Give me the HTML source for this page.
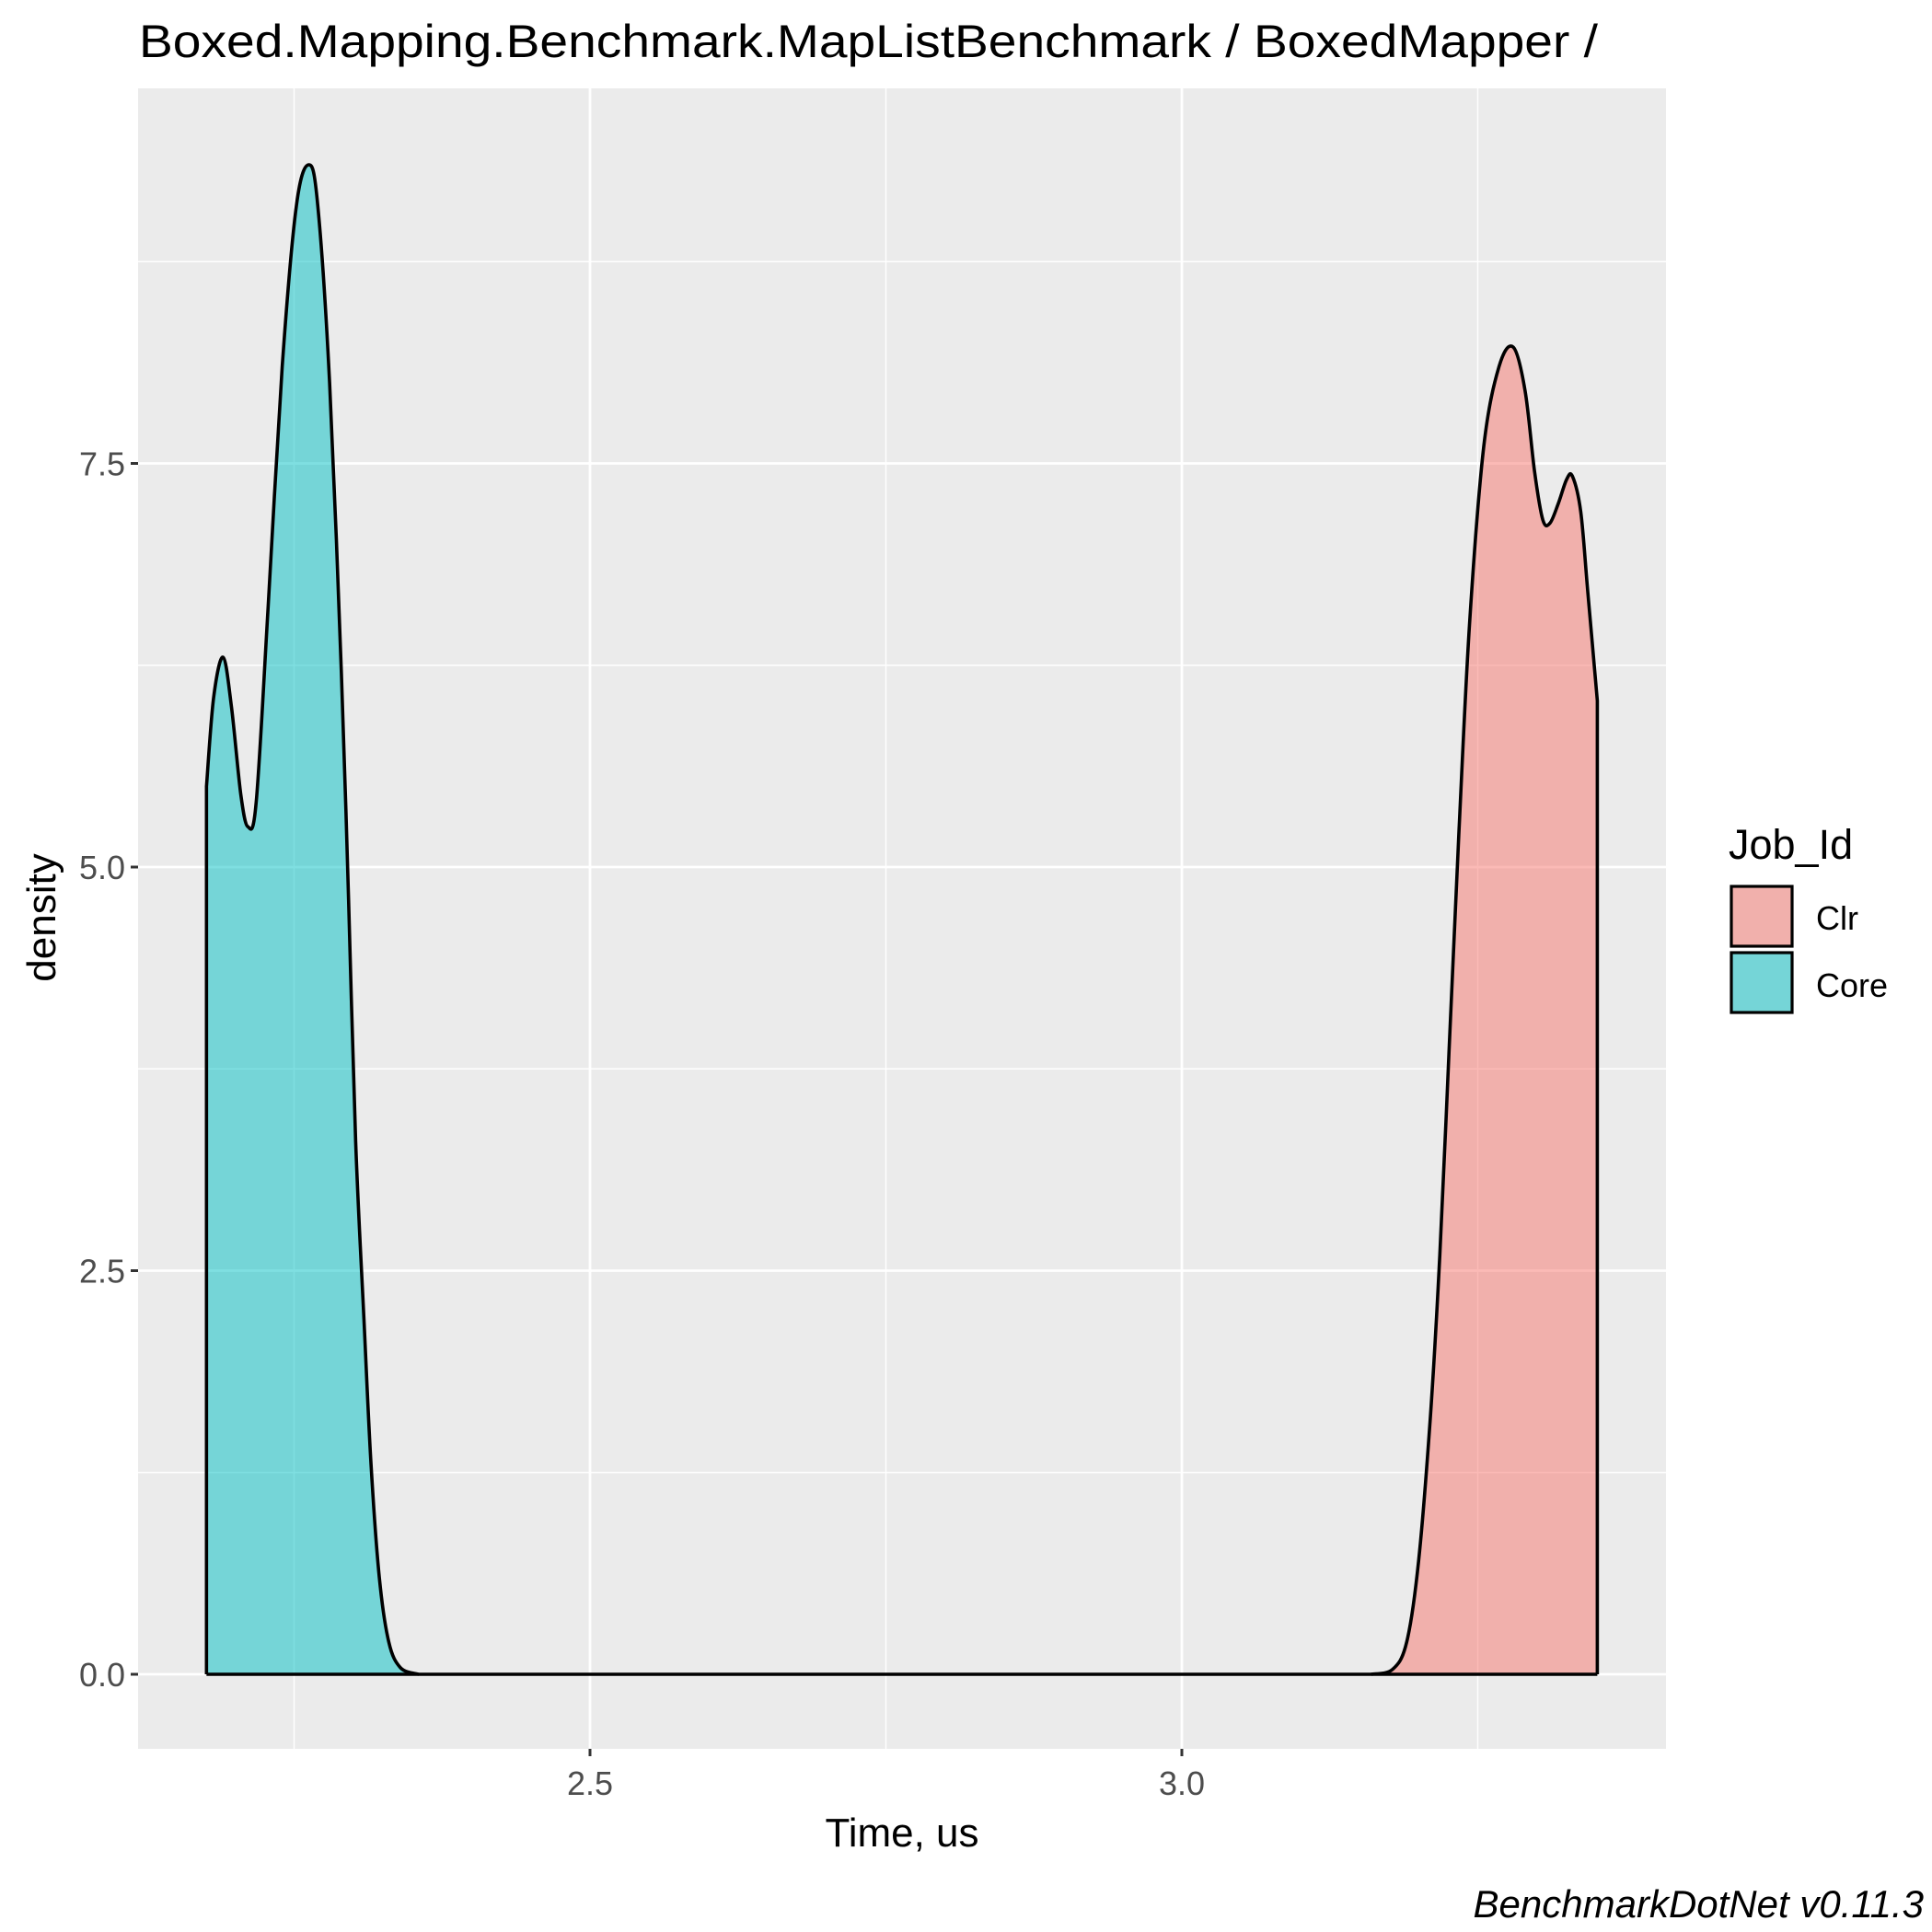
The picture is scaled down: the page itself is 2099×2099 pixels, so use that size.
<!DOCTYPE html>
<html><head><meta charset="utf-8"><style>
html,body{margin:0;padding:0;background:#fff;}
svg{display:block;}
text{font-family:"Liberation Sans",sans-serif;}
</style></head><body>
<svg id="chart" width="2099" height="2099" viewBox="0 0 2099 2099" xmlns="http://www.w3.org/2000/svg">
<rect x="0" y="0" width="2099" height="2099" fill="#fff"/>
<text x="151" y="62" font-size="50" fill="#000" textLength="1585" lengthAdjust="spacingAndGlyphs">Boxed.Mapping.Benchmark.MapListBenchmark / BoxedMapper /</text>
<rect x="150" y="96" width="1660" height="1804" fill="#EBEBEB"/>
<g id="grid"></g>
<g id="series"></g>
<g id="axes"></g>
<text x="980" y="2006" font-size="44" text-anchor="middle" fill="#000">Time, us</text>
<text transform="translate(60,997) rotate(-90)" font-size="44" text-anchor="middle" fill="#000">density</text>
<text x="1878" y="933" font-size="45" fill="#000">Job_Id</text>
<g>
<rect x="1881" y="963" width="66" height="65" fill="#EBEBEB"/>
<rect x="1881" y="963" width="66" height="65" fill="#F8766D" fill-opacity="0.5" stroke="#000" stroke-width="3.2"/>
<text x="1973" y="1010" font-size="36" fill="#000">Clr</text>
</g>
<g>
<rect x="1881" y="1035" width="66" height="65" fill="#EBEBEB"/>
<rect x="1881" y="1035" width="66" height="65" fill="#00BFC4" fill-opacity="0.5" stroke="#000" stroke-width="3.2"/>
<text x="1973" y="1083" font-size="36" fill="#000">Core</text>
</g>
<text x="2090" y="2083" font-size="42" font-style="italic" text-anchor="end" fill="#000">BenchmarkDotNet v0.11.3</text>
</svg>
<script>
const coreX = [2.176,2.182,2.190,2.197,2.205,2.211,2.218,2.228,2.240,2.252,2.2625,2.270,2.280,2.290,2.296,2.302,2.309,2.315,2.322,2.330,2.340,2.355];
const coreY = [5.5,6.05,6.3,6.0,5.45,5.25,5.4,6.6,8.1,9.1,9.35,9.1,8.0,6.2,4.8,3.3,2.2,1.3,0.6,0.2,0.04,0.0];
const clrX = [3.160,3.178,3.190,3.200,3.210,3.218,3.226,3.234,3.243,3.255,3.268,3.280,3.290,3.298,3.305,3.311,3.318,3.325,3.330,3.337,3.343,3.351];
const clrY = [0,0.03,0.2,0.7,1.6,2.6,3.9,5.2,6.5,7.6,8.1,8.22,7.95,7.45,7.15,7.13,7.25,7.4,7.42,7.2,6.7,6.03];
const xTicks = [2.5,3.0];
const xTickLabels = ["2.5","3.0"];
const xMinor = [2.25,2.75,3.25];
const yTicks = [0,2.5,5,7.5];
const yTickLabels = ["0.0","2.5","5.0","7.5"];
const yMinor = [1.25,3.75,6.25,8.75];
const xMinAll = 2.176, xMaxAll = 3.351;

const NS="http://www.w3.org/2000/svg";
const L=150,R=1810,T=96,B=1900;
function sx(v){return 641+(v-2.5)*1286;}
function sy(v){return 1819-v*175.4;}
function mk(tag,attrs,parent){const e=document.createElementNS(NS,tag);for(const k in attrs)e.setAttribute(k,attrs[k]);parent.appendChild(e);return e;}
const grid=document.getElementById('grid'),axes=document.getElementById('axes'),series=document.getElementById('series');
yMinor.forEach(v=>{const e=mk('line',{x1:L,x2:R,y1:sy(v),y2:sy(v),stroke:'#fff','stroke-width':1.4},grid);

});
xMinor.forEach(v=>{const e=mk('line',{x1:sx(v),x2:sx(v),y1:T,y2:B,stroke:'#fff','stroke-width':1.4},grid);

});
yTicks.forEach((v,i)=>{const e=mk('line',{x1:L,x2:R,y1:sy(v),y2:sy(v),stroke:'#fff','stroke-width':2.8},grid);


const t=mk('line',{x1:L-8,x2:L,y1:sy(v),y2:sy(v),stroke:'#333','stroke-width':3},axes);


const tx=mk('text',{x:L-14,y:sy(v)+13,'font-size':36,'text-anchor':'end',fill:'#4D4D4D'},axes);tx.textContent=yTickLabels[i];

});
xTicks.forEach((v,i)=>{const e=mk('line',{x1:sx(v),x2:sx(v),y1:T,y2:B,stroke:'#fff','stroke-width':2.8},grid);


const t=mk('line',{x1:sx(v),x2:sx(v),y1:B,y2:B+8,stroke:'#333','stroke-width':3},axes);


const tx=mk('text',{x:sx(v),y:B+50,'font-size':36,'text-anchor':'middle',fill:'#4D4D4D'},axes);tx.textContent=xTickLabels[i];

});

function smooth(pts){let d='';for(let i=0;i<pts.length-1;i++){const p0=pts[Math.max(0,i-1)],p1=pts[i],p2=pts[i+1],p3=pts[Math.min(pts.length-1,i+2)];
const c1=[p1[0]+(p2[0]-p0[0])/6,p1[1]+(p2[1]-p0[1])/6],c2=[p2[0]-(p3[0]-p1[0])/6,p2[1]-(p3[1]-p1[1])/6];
d+=` C${c1[0].toFixed(1)},${c1[1].toFixed(1)} ${c2[0].toFixed(1)},${c2[1].toFixed(1)} ${p2[0].toFixed(1)},${p2[1].toFixed(1)}`;}return d;}
function area(xs,ys,color,name){
const pts=xs.map((x,i)=>[sx(x),sy(ys[i])]);
const first=pts[0],last=pts[pts.length-1];
let d=`M${sx(xMinAll)},${sy(0)} L${first[0]},${sy(0)} L${first[0]},${first[1]}`+smooth(pts)+` L${last[0]},${sy(0)} L${sx(xMaxAll)},${sy(0)}`;
const f=mk('path',{d:d+' Z',fill:color,'fill-opacity':0.5,stroke:'none'},series);


let od=`M${first[0]},${sy(0)} L${first[0]},${first[1]}`+smooth(pts)+` L${last[0]},${sy(0)}`;
const o=mk('path',{d:od,fill:'none',stroke:'#000','stroke-width':3.6,'stroke-linejoin':'round'},series);

}
area(coreX,coreY,'#00BFC4','core-density');
area(clrX,clrY,'#F8766D','clr-density');
const bl=mk('line',{x1:sx(xMinAll),x2:sx(xMaxAll),y1:sy(0),y2:sy(0),stroke:'#000','stroke-width':3.6},series);


</script>
</body></html>
